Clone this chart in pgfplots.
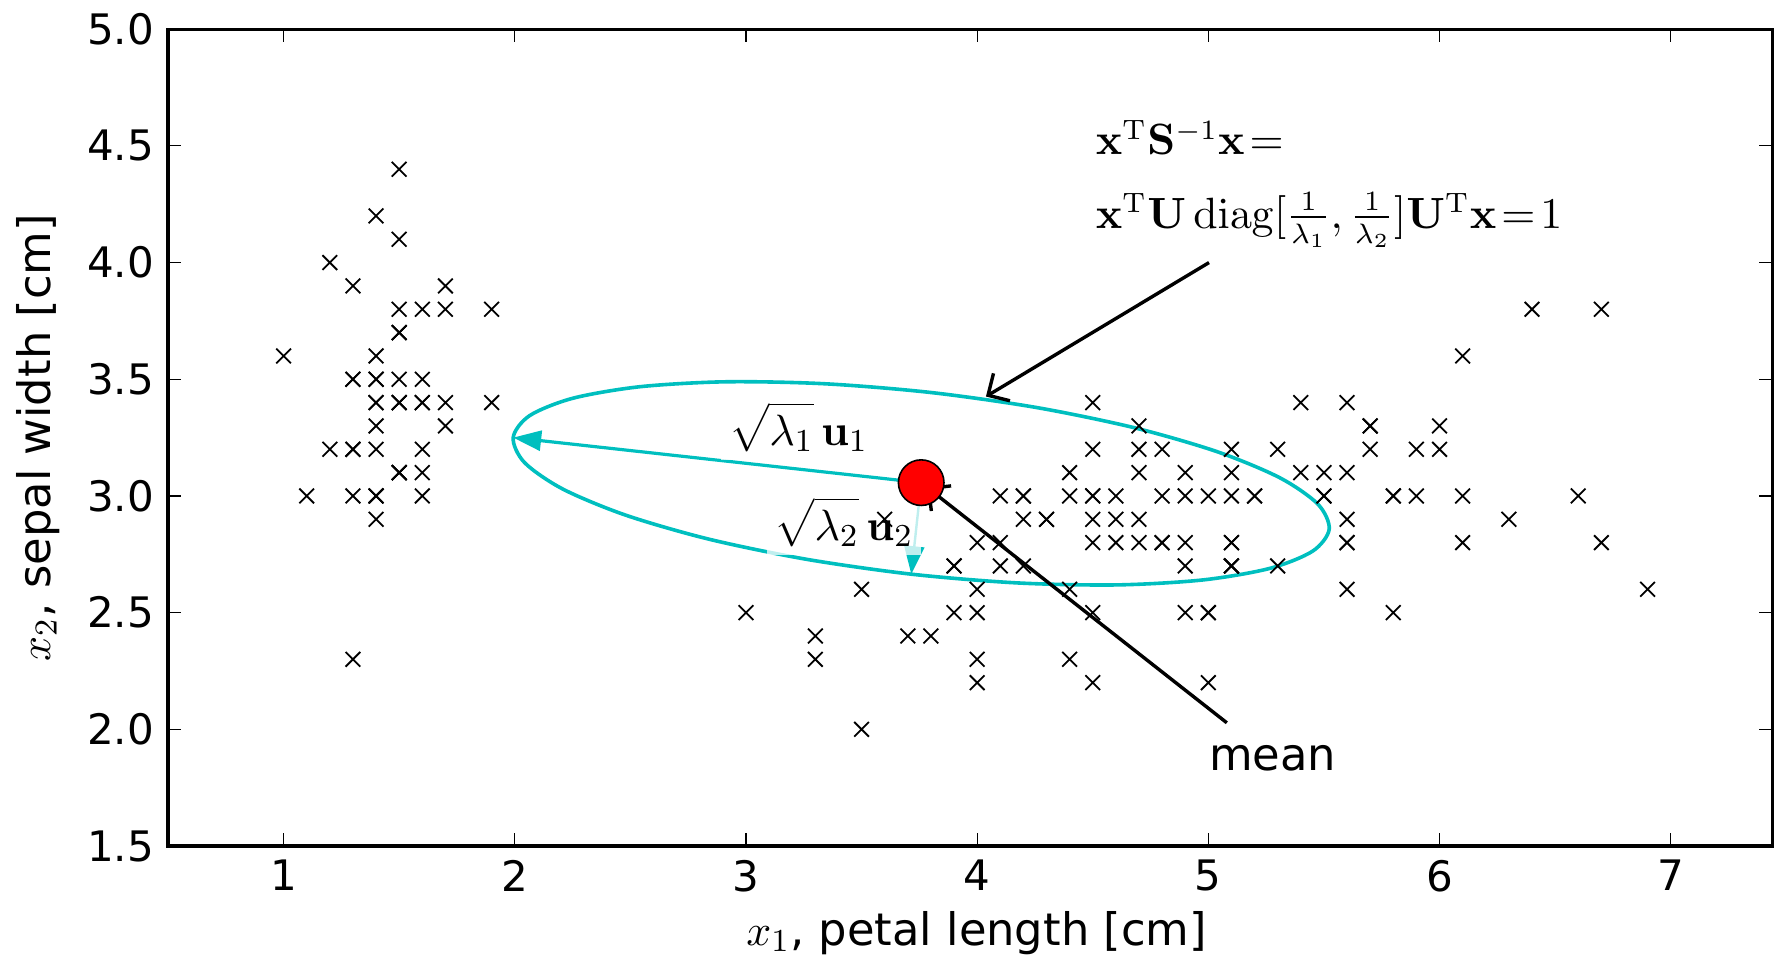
\documentclass[border=0pt]{standalone}
\usepackage[no-math]{fontspec}
\setmainfont{DejaVu Sans}
\usepackage{pgfplots}
\pgfplotsset{compat=1.18}
\usetikzlibrary{arrows.meta}
\definecolor{mplcyan}{rgb}{0,0.75,0.75}
\newcommand{\tickfont}{\fontsize{10.5}{12.6}\selectfont}
\newcommand{\lblfont}{\fontsize{11.2}{13.4}\selectfont}
\newcommand{\eqfont}{\fontsize{11}{13}\selectfont\thickmuskip=3mu plus 2mu\medmuskip=3mu plus 2mu}
\newcommand{\formfont}{\fontsize{10.6}{13}\selectfont\thickmuskip=2mu plus 1mu\medmuskip=2mu plus 1mu}

\begin{document}
\begin{tikzpicture}
\begin{axis}[
  at={(0,0)}, anchor=south west,
  scale only axis, width=401.1pt, height=204.2pt,
  xmin=0.5, xmax=7.44, ymin=1.5, ymax=5,
  xtick={1,2,3,4,5,6,7},
  ytick={1.5,2,2.5,3,3.5,4,4.5,5},
  yticklabel style={/pgf/number format/.cd, fixed, fixed zerofill, precision=1},
  /pgf/number format/assume math mode=true,
  tick align=inside,
  major tick length=3.3pt,
  tick style={black, line width=0.3pt},
  axis line style={line width=0.8pt},
  tick label style={font=\tickfont},
  xlabel={$x_1$, petal length [cm]},
  ylabel={$x_2$, sepal width [cm]},
  every axis x label/.style={at={(axis description cs:0.504,-0.1212)}, anchor=base, font=\lblfont},
  every axis y label/.style={at={(axis description cs:-0.0735,0.5)}, rotate=90, anchor=base, font=\lblfont},
  clip=false,
]
% petal length vs sepal width, all 150 flowers
\addplot[only marks, mark=x, mark size=2.6pt, black, mark options={line width=0.45pt}] coordinates {
  (1.4,3.5)(1.4,3.0)(1.3,3.2)(1.5,3.1)(1.4,3.6)(1.7,3.9)(1.4,3.4)(1.5,3.4)(1.4,2.9)(1.5,3.1)
  (1.5,3.7)(1.6,3.4)(1.4,3.0)(1.1,3.0)(1.2,4.0)(1.5,4.4)(1.3,3.9)(1.4,3.5)(1.7,3.8)(1.5,3.8)
  (1.7,3.4)(1.5,3.7)(1.0,3.6)(1.7,3.3)(1.9,3.4)(1.6,3.0)(1.6,3.4)(1.5,3.5)(1.4,3.4)(1.6,3.2)
  (1.6,3.1)(1.5,3.4)(1.5,4.1)(1.4,4.2)(1.5,3.1)(1.2,3.2)(1.3,3.5)(1.5,3.1)(1.3,3.0)(1.5,3.4)
  (1.3,3.5)(1.3,2.3)(1.3,3.2)(1.6,3.5)(1.9,3.8)(1.4,3.0)(1.6,3.8)(1.4,3.2)(1.5,3.7)(1.4,3.3)
  (4.7,3.2)(4.5,3.2)(4.9,3.1)(4.0,2.3)(4.6,2.8)(4.5,2.8)(4.7,3.3)(3.3,2.4)(4.6,2.9)(3.9,2.7)
  (3.5,2.0)(4.2,3.0)(4.0,2.2)(4.7,2.9)(3.6,2.9)(4.4,3.1)(4.5,3.0)(4.1,2.7)(4.5,2.2)(3.9,2.5)
  (4.8,3.2)(4.0,2.8)(4.9,2.5)(4.7,2.8)(4.3,2.9)(4.4,3.0)(4.8,2.8)(5.0,3.0)(4.5,2.9)(3.5,2.6)
  (3.8,2.4)(3.7,2.4)(3.9,2.7)(5.1,2.7)(4.5,3.0)(4.5,3.4)(4.7,3.1)(4.4,2.3)(4.1,3.0)(4.0,2.5)
  (4.4,2.6)(4.6,3.0)(4.0,2.6)(3.3,2.3)(4.2,2.7)(4.2,3.0)(4.2,2.9)(4.3,2.9)(3.0,2.5)(4.1,2.8)
  (6.0,3.3)(5.1,2.7)(5.9,3.0)(5.6,2.9)(5.8,3.0)(6.6,3.0)(4.5,2.5)(6.3,2.9)(5.8,2.5)(6.1,3.6)
  (5.1,3.2)(5.3,2.7)(5.5,3.0)(5.0,2.5)(5.1,2.8)(5.3,3.2)(5.5,3.0)(6.7,3.8)(6.9,2.6)(5.0,2.2)
  (5.7,3.2)(4.9,2.8)(6.7,2.8)(4.9,2.7)(5.7,3.3)(6.0,3.2)(4.8,2.8)(4.9,3.0)(5.6,2.8)(5.8,3.0)
  (6.1,2.8)(6.4,3.8)(5.6,2.8)(5.1,2.8)(5.6,2.6)(6.1,3.0)(5.6,3.4)(5.5,3.1)(4.8,3.0)(5.4,3.1)
  (5.6,3.1)(5.1,3.1)(5.1,2.7)(5.9,3.2)(5.7,3.3)(5.2,3.0)(5.0,2.5)(5.2,3.0)(5.4,3.4)(5.1,3.0)
};
% covariance ellipse x^T S^-1 x = 1
\draw[mplcyan, line width=0.9pt] plot[smooth cycle] coordinates {
  (axis cs:5.5228,2.8576)(axis cs:5.4738,2.9650)(axis cs:5.3081,3.0785)(axis cs:5.0365,3.1902)
  (axis cs:4.6779,3.2928)(axis cs:4.2565,3.3790)(axis cs:3.8013,3.4431)(axis cs:3.3431,3.4806)
  (axis cs:2.9131,3.4892)(axis cs:2.5407,3.4680)(axis cs:2.2513,3.4187)(axis cs:2.0646,3.3444)
  (axis cs:1.9932,3.2504)(axis cs:2.0422,3.1430)(axis cs:2.2079,3.0295)(axis cs:2.4795,2.9178)
  (axis cs:2.8381,2.8152)(axis cs:3.2595,2.7290)(axis cs:3.7147,2.6649)(axis cs:4.1729,2.6274)
  (axis cs:4.6029,2.6188)(axis cs:4.9753,2.6400)(axis cs:5.2647,2.6893)(axis cs:5.4514,2.7636)
};
\draw[mplcyan, line width=0.8pt, -{Triangle[length=7pt,width=5pt]}] (axis cs:3.758,3.057) -- (axis cs:1.993,3.250);
\draw[mplcyan, line width=0.6pt, -{Triangle[length=7pt,width=5pt]}] (axis cs:3.758,3.057) -- (axis cs:3.715,2.665);
% mean
\addplot[only marks, mark=*, mark size=5.7pt, mark options={fill=red, draw=black, line width=0.4pt}] coordinates {(3.758,3.057)};
\node[anchor=base west, fill=white, fill opacity=0.75, text opacity=1, inner sep=2pt, font=\eqfont] at (axis cs:2.89,3.218) {$\sqrt{\lambda_1\rule{0pt}{0.85em}}\,\mathbf{u}_1$};
\node[anchor=base west, fill=white, fill opacity=0.75, text opacity=1, inner sep=2pt, font=\eqfont] at (axis cs:3.086,2.811) {$\sqrt{\lambda_2\rule{0pt}{0.85em}}\,\mathbf{u}_2$};
% annotations
\draw[black, line width=0.85pt, -{Straight Barb[length=4pt,width=8pt]}] (axis cs:5.08,2.028) -- (axis cs:3.782,3.038);
\node[anchor=base west, font=\lblfont, inner sep=0pt] at (axis cs:5.0,1.825) {mean};
\draw[black, line width=0.85pt, -{Straight Barb[length=4pt,width=8pt]}] (axis cs:5.003,4.0) -- (axis cs:4.038,3.426);
\node[anchor=base west, font=\formfont, inner sep=0pt] at (axis cs:4.51,4.461) {$\mathbf{x}^{\mathrm{T}}\mathbf{S}^{-1}\mathbf{x}=$};
\node[anchor=base west, font=\formfont, inner sep=0pt] at (axis cs:4.51,4.148) {$\mathbf{x}^{\mathrm{T}}\mathbf{U}\,\mathrm{diag}[\frac{1}{\lambda_1},\frac{1}{\lambda_2}]\mathbf{U}^{\mathrm{T}}\mathbf{x}=1$};
\end{axis}
\pgfresetboundingbox
\path[use as bounding box] (-42pt,-30pt) rectangle (402pt,211.5pt);
\end{tikzpicture}
\end{document}
